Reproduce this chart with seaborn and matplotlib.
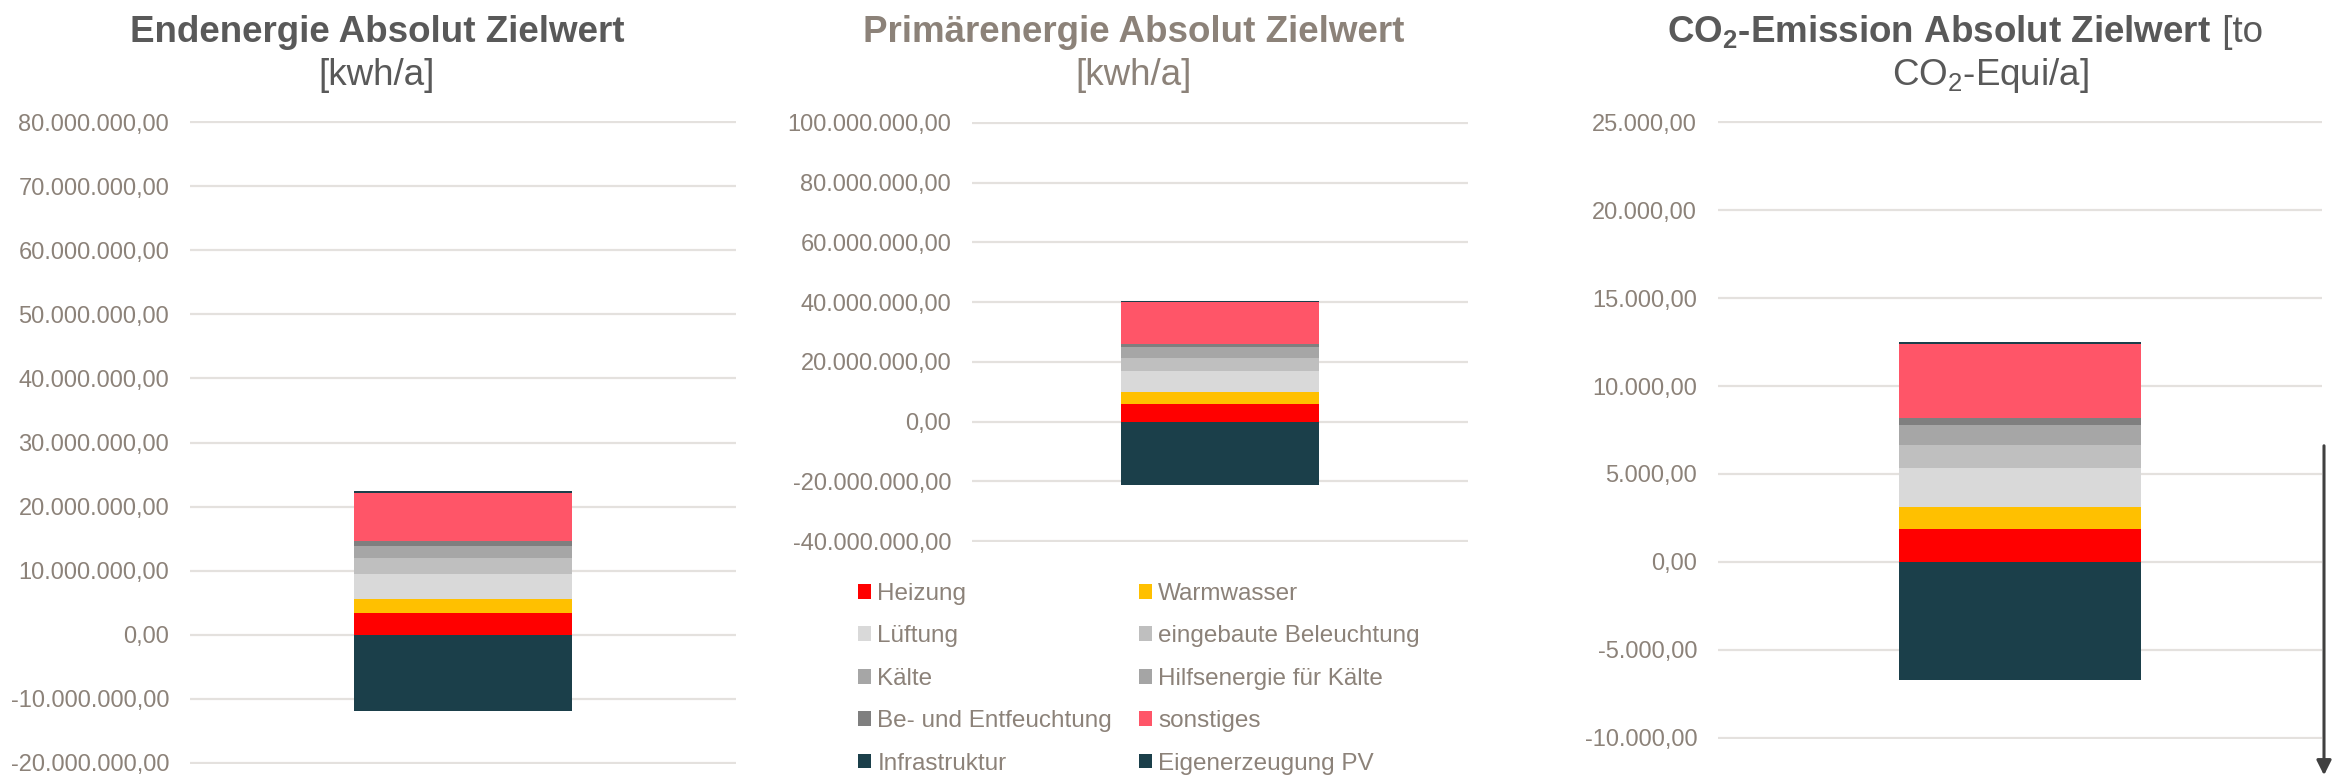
import numpy as np
import pandas as pd
import matplotlib
matplotlib.use("Agg")
import matplotlib.pyplot as plt
import seaborn as sns
from matplotlib import font_manager
from matplotlib.patches import Patch, FancyArrowPatch
from matplotlib.ticker import FuncFormatter

# ---------------- data ----------------
categories = ["Heizung", "Warmwasser", "Lüftung", "eingebaute Beleuchtung", "Kälte",
              "Hilfsenergie für Kälte", "Be- und Entfeuchtung", "sonstiges",
              "Infrastruktur", "Eigenerzeugung PV"]
colors = ["#FF0000", "#FFC000", "#D9D9D9", "#BFBFBF", "#A6A6A6",
          "#A5A5A5", "#7F7F7F", "#FF5568", "#1B3F4A", "#1B3F4A"]

endenergie = [3.35e6, 2.2e6, 3.9e6, 2.45e6, 2.0e6, 0.0, 0.65e6, 7.5e6, 0.3e6, -11.9e6]
primaerenergie = [6.0e6, 4.0e6, 7.0e6, 4.3e6, 3.6e6, 0.0, 1.2e6, 13.9e6, 0.45e6, -21.2e6]
co2 = [1850, 1300, 2210, 1300, 1130, 0, 400, 4190, 110, -6700]

yticks_end = [-20e6, -10e6, 0, 10e6, 20e6, 30e6, 40e6, 50e6, 60e6, 70e6, 80e6]
yticks_prim = [-40e6, -20e6, 0, 20e6, 40e6, 60e6, 80e6, 100e6]
yticks_co2 = [-10000, -5000, 0, 5000, 10000, 15000, 20000, 25000]

# ---------------- style ----------------
W, H = 2338, 782
sns.set_theme(style="white")
avail = {f.name for f in font_manager.fontManager.ttflist}
plt.rcParams["font.family"] = ["Liberation Sans", "DejaVu Sans"]
plt.rcParams["mathtext.default"] = "regular"

TICK_C = "#8C8279"
DARK_T = "#595959"
GRID_C = "#E4E1DE"
if "Liberation Sans Narrow" in avail:
    title_family = ["Liberation Sans Narrow", "Liberation Sans", "DejaVu Sans"]
    TSIZE = 32
else:
    title_family = ["Liberation Sans", "DejaVu Sans"]
    TSIZE = 26.5

fig = plt.figure(figsize=(W / 100, H / 100), dpi=100)


def px_axes(x0, x1, ytop, ybot):
    return fig.add_axes([x0 / W, 1 - ybot / H, (x1 - x0) / W, (ybot - ytop) / H])


def de_fmt(v, pos=None):
    s = f"{v:,.2f}"
    return s.replace(",", "X").replace(".", ",").replace("X", ".")


def draw(ax, values, ticks):
    vals = np.array(values, dtype=float)
    pos = vals[:-1]
    cum = np.cumsum(pos)
    for i in range(len(pos) - 1, -1, -1):
        df = pd.DataFrame({"x": ["Zielwert"], "y": [cum[i]]})
        sns.barplot(data=df, x="x", y="y", color=colors[i], width=0.4,
                    linewidth=0, saturation=1, errorbar=None, ax=ax)
    df = pd.DataFrame({"x": ["Zielwert"], "y": [vals[-1]]})
    sns.barplot(data=df, x="x", y="y", color=colors[-1], width=0.4,
                linewidth=0, saturation=1, errorbar=None, ax=ax)
    rng = ticks[-1] - ticks[0]
    ax.set_ylim(ticks[0] - rng * 0.002, ticks[-1] + rng * 0.002)
    ax.set_xlim(-0.5, 0.5)
    ax.set_yticks(ticks)
    ax.yaxis.set_major_formatter(FuncFormatter(de_fmt))
    ax.set_xticks([])
    ax.set_xlabel("")
    ax.set_ylabel("")
    for s in ax.spines.values():
        s.set_visible(False)
    ax.grid(axis="y", color=GRID_C, linewidth=1.6)
    ax.grid(axis="x", visible=False)
    ax.set_axisbelow(True)
    ax.tick_params(axis="y", length=0, pad=15, labelsize=17, labelcolor=TICK_C)
    ax.patch.set_alpha(0)


ax1 = px_axes(190, 736, 121, 764)
draw(ax1, endenergie, yticks_end)
ax2 = px_axes(972, 1468, 122, 542)
draw(ax2, primaerenergie, yticks_prim)
ax3 = px_axes(1718, 2322, 121, 739)
draw(ax3, co2, yticks_co2)

# ---------------- titles ----------------
fig.canvas.draw()
renderer = fig.canvas.get_renderer()


def title_line(parts, cx, base_y, color):
    texts = [fig.text(0, 0, t, fontsize=TSIZE, fontweight=w, color=color,
                      va="baseline", ha="left", family=title_family)
             for t, w in parts]
    widths = [t.get_window_extent(renderer).width for t in texts]
    x = cx - sum(widths) / 2
    for t, w in zip(texts, widths):
        t.set_position((x / W, 1 - base_y / H))
        x += w


title_line([("Endenergie Absolut Zielwert", "bold")], 377, 42, DARK_T)
title_line([("[kwh/a]", "normal")], 377, 85, DARK_T)
title_line([("Primärenergie Absolut Zielwert", "bold")], 1134, 42, TICK_C)
title_line([("[kwh/a]", "normal")], 1134, 85, TICK_C)
title_line([("CO$_2$-Emission Absolut Zielwert", "bold"), (" [to", "normal")], 1965, 42, DARK_T)
title_line([("CO$_2$-Equi/a]", "normal")], 1990, 85, DARK_T)

# ---------------- legend ----------------
order = [0, 2, 4, 6, 8, 1, 3, 5, 7, 9]
handles = [Patch(facecolor=colors[i], edgecolor="none", label=categories[i]) for i in order]
fig.legend(handles=handles, ncol=2, loc="upper left",
           bbox_to_anchor=(858 / W, 1 - 583 / H), frameon=False,
           fontsize=17.5, labelcolor=TICK_C, handlelength=0.55, handleheight=0.55,
           handletextpad=0.25, columnspacing=1.1, labelspacing=0.84,
           borderpad=0, borderaxespad=0)

# ---------------- arrow ----------------
arrow = FancyArrowPatch((2324 / W, 1 - 443 / H), (2324 / W, 1 - 778 / H),
                        transform=fig.transFigure, arrowstyle="-|>",
                        mutation_scale=22, color="#404040", lw=2.2)
fig.add_artist(arrow)

fig.savefig("out.png", dpi=100)
